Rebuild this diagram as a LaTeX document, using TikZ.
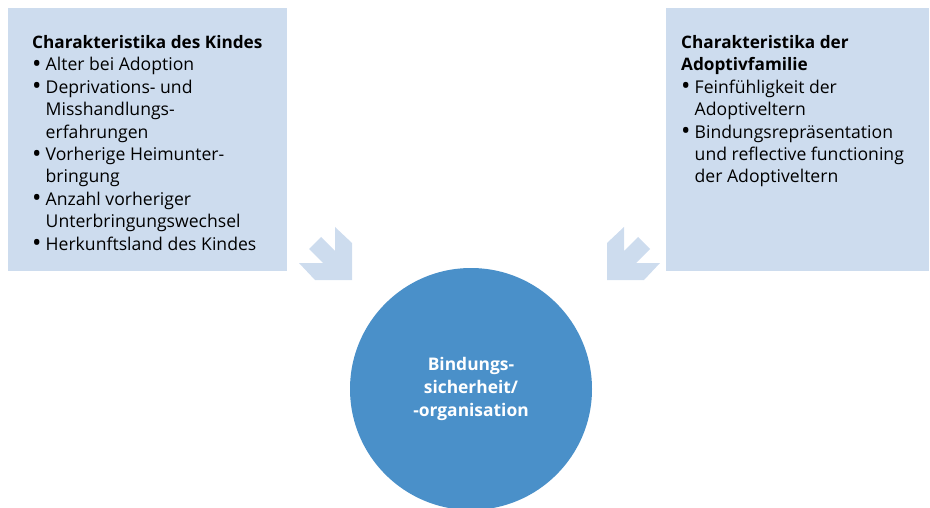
\documentclass[tikz,border=0pt]{standalone}
\usepackage{fontspec}
\setmainfont{Open Sans}
\definecolor{boxblue}{RGB}{205,220,238}
\definecolor{arrblue}{RGB}{205,220,238}
\definecolor{circblue}{RGB}{74,144,201}
\begin{document}
\begin{tikzpicture}[x=1pt,y=-1pt,
  infobox/.style={fill=boxblue, draw=none, minimum width=279pt, minimum height=263pt, anchor=north west, inner sep=0pt},
  boxtext/.style={anchor=base west, align=left, inner sep=0pt, font=\fontsize{17.6}{22.4}\selectfont},
  circtext/.style={align=center, text=white, inner sep=0pt, font=\fontsize{17.4}{23}\selectfont\bfseries},
  arrowshape/.style={fill=arrblue, draw=none}]
\useasboundingbox (0,0) rectangle (930,508);
\clip (0,0) rectangle (930,508);
\newcommand{\bul}{\makebox[13.5pt][l]{\smash{\raisebox{-1.5pt}{\fontsize{25}{0}\selectfont •}}}}
\newcommand{\ind}{\hspace*{13.5pt}}
\newcommand{\ttl}[1]{{\fontsize{17.2}{22.4}\selectfont\bfseries #1}}
\node[infobox] (kind) at (8,8) {};
\node[infobox, minimum width=263pt] (familie) at (666,8) {};
\node[circle, fill=circblue, minimum size=242pt, inner sep=0pt] (bind) at (471,389) {};
\node[circtext] (bindtext) at (bind.center) {Bindungs-\\sicherheit/\\-organisation};
\node[boxtext] (kindtext) at (32,250.1) {\ttl{Charakteristika des Kindes}\\
\bul Alter bei Adoption\\
\bul Deprivations- und\\
\ind Misshandlungs-\\
\ind erfahrungen\\
\bul Vorherige Heimunter-\\
\ind bringung\\
\bul Anzahl vorheriger\\
\ind Unterbringungswechsel\\
\bul Herkunftsland des Kindes};
\node[boxtext] (familietext) at (681,182.9) {\ttl{Charakteristika der}\\
\ttl{Adoptivfamilie}\\
\bul Feinfühligkeit der\\
\ind Adoptiveltern\\
\bul Bindungsrepräsentation\\
\ind und reflective functioning\\
\ind der Adoptiveltern};
\coordinate (arrL) at (352,280);
\coordinate (arrR) at (607,280);
\begin{scope}[shift={(arrL)}]
\fill[arrowshape] (0,0) -- (0,-37) -- (-17,-53) -- (-17,-29) -- (-31,-43) -- (-43,-31) -- (-29,-17) -- (-53,-17) -- (-37,0) -- cycle;
\end{scope}
\begin{scope}[shift={(arrR)}, xscale=-1]
\fill[arrowshape] (0,0) -- (0,-37) -- (-17,-53) -- (-17,-29) -- (-31,-43) -- (-43,-31) -- (-29,-17) -- (-53,-17) -- (-37,0) -- cycle;
\end{scope}
\end{tikzpicture}
\end{document}
